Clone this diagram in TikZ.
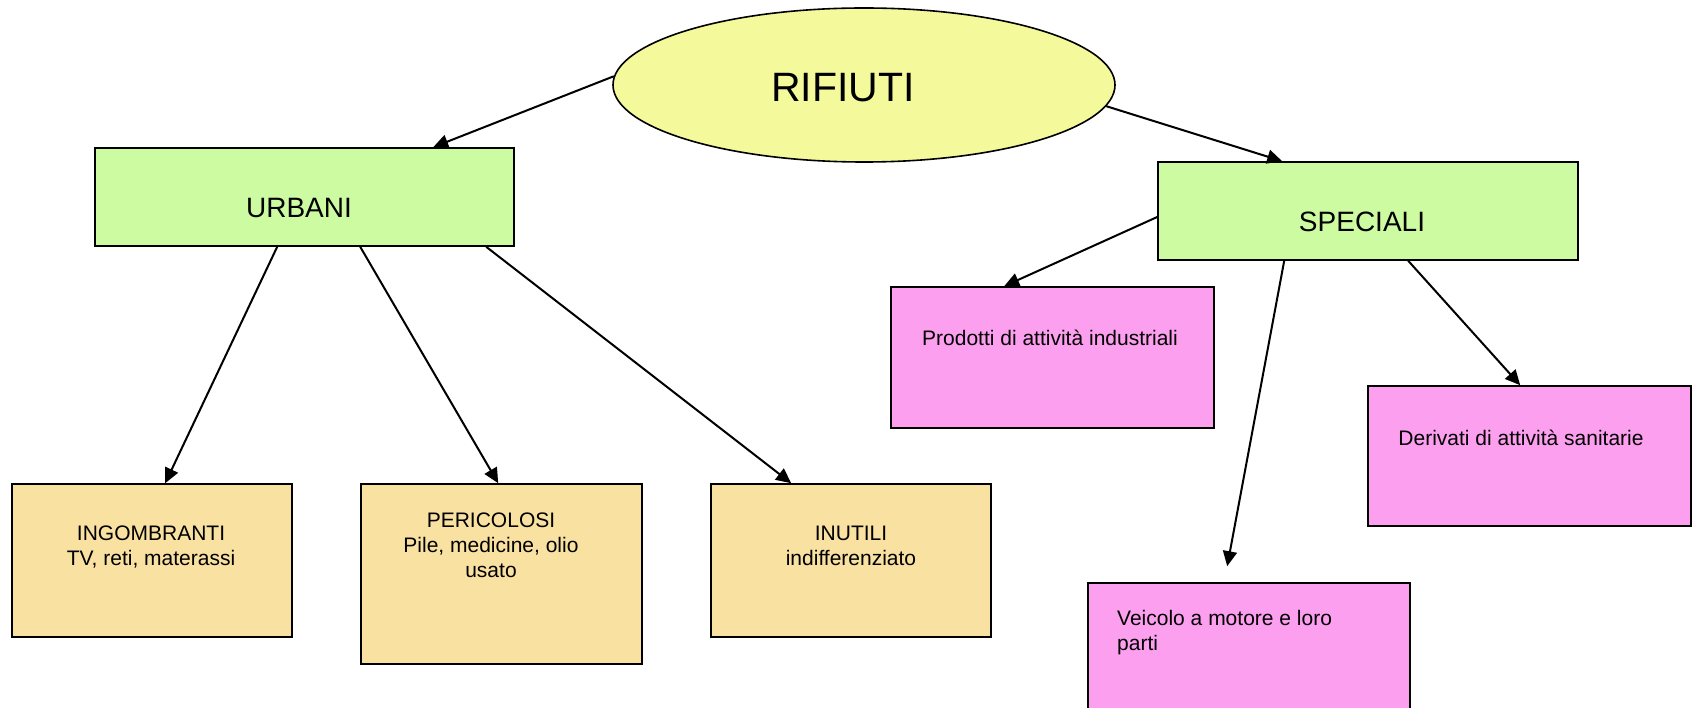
\documentclass[tikz,border=0pt]{standalone}
\usepackage{fontspec}
\setmainfont{Liberation Sans}
\usetikzlibrary{arrows.meta,shapes.geometric}
\definecolor{ellfill}{HTML}{F4FA9C}
\definecolor{grnfill}{HTML}{CCFBA2}
\definecolor{tanfill}{HTML}{F9E1A2}
\definecolor{pnkfill}{HTML}{FD9FEF}
\tikzset{
  box/.style={draw=black, line width=1.6pt, rectangle, inner sep=0pt},
  arr/.style={line width=2pt, -{Triangle[length=15pt,width=14pt]}},
  bodytext/.style={font=\fontsize{21pt}{25pt}\selectfont, align=center, inner sep=0pt, anchor=base},
  headtext/.style={font=\fontsize{28pt}{32pt}\selectfont, inner sep=0pt},
}
\begin{document}
\begin{tikzpicture}[x=1pt,y=-1pt]
\useasboundingbox (0,0) rectangle (1694,708);
% main ellipse
\node[draw=black, line width=1.6pt, ellipse, fill=ellfill, minimum width=502pt, minimum height=154pt, inner sep=0pt] (rif) at (864,85) {};
\node[font=\fontsize{41pt}{44pt}\selectfont, inner sep=0pt] (rifT) at (843,88) {RIFIUTI};
% level 1
\node[box, fill=grnfill, minimum width=419pt, minimum height=98pt] (urb) at (304.5,197) {};
\node[headtext] (urbT) at (299,208) {URBANI};
\node[box, fill=grnfill, minimum width=420pt, minimum height=98pt] (spe) at (1368,211) {};
\node[headtext] (speT) at (1362,222) {SPECIALI};
% urbani children
\node[box, fill=tanfill, minimum width=280pt, minimum height=153pt] (ing) at (152,560.5) {};
\node[bodytext] (ingT) at (151,565) {INGOMBRANTI\\TV, reti, materassi};
\node[box, fill=tanfill, minimum width=281pt, minimum height=180pt] (per) at (501.5,574) {};
\node[bodytext] (perT) at (491,577) {PERICOLOSI\\Pile, medicine, olio\\usato};
\node[box, fill=tanfill, minimum width=280pt, minimum height=153pt] (inu) at (851,560.5) {};
\node[bodytext] (inuT) at (851,565) {INUTILI\\indifferenziato};
% speciali children
\node[box, fill=pnkfill, minimum width=323pt, minimum height=141pt] (pro) at (1052.5,357.5) {};
\node[bodytext] (proT) at (1050,346) {Prodotti di attività industriali};
\node[box, fill=pnkfill, minimum width=323pt, minimum height=140pt] (der) at (1529.5,456) {};
\node[bodytext] (derT) at (1521,445) {Derivati di attività sanitarie};
\node[box, fill=pnkfill, minimum width=322pt, minimum height=134pt] (vei) at (1249,650) {};
\node[bodytext, anchor=base west, align=left] (veiT) at (1117,650) {Veicolo a motore e loro\\parti};
% connectors
\draw[arr] (rif.178) -- ([xshift=339pt]urb.north west);
\draw[arr] (rif.-5.5) -- ([xshift=125pt]spe.north west);
\draw[arr] ([xshift=183pt]urb.south west) -- ([xshift=154pt]ing.north west);
\draw[arr] ([xshift=266pt]urb.south west) -- ([xshift=138pt]per.north west);
\draw[arr] ([xshift=392pt]urb.south west) -- ([xshift=81pt]inu.north west);
\draw[arr] ([yshift=-6pt]spe.west) -- ([xshift=114pt]pro.north west);
\draw[arr] ([xshift=127pt]spe.south west) -- ([xshift=140pt,yshift=16pt]vei.north west);
\draw[arr] ([xshift=251pt]spe.south west) -- ([xshift=153pt]der.north west);
\end{tikzpicture}
\end{document}
